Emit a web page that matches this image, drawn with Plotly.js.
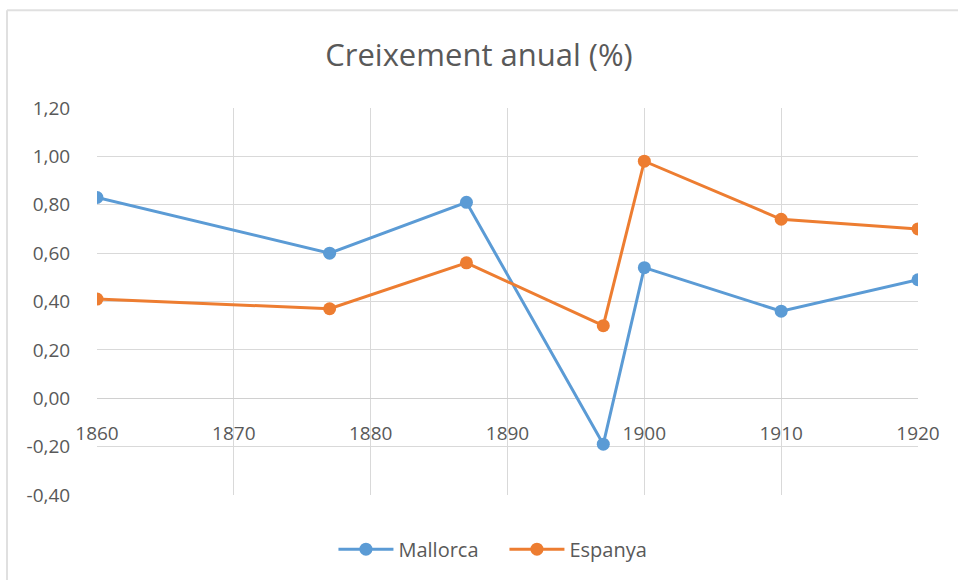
<!DOCTYPE html>
<html>
<head>
<meta charset="utf-8">
<script src="https://cdn.plot.ly/plotly-3.0.1.min.js"></script>
<style>html,body{margin:0;padding:0;background:#fff;}#chart{width:958px;height:580px;}</style>
</head>
<body>
<div id="chart"></div>
<script>
const years = [1860, 1877, 1887, 1897, 1900, 1910, 1920];
const mallorca = [0.83, 0.60, 0.81, -0.19, 0.54, 0.36, 0.49];
const espanya = [0.41, 0.37, 0.56, 0.30, 0.98, 0.74, 0.70];
const xTickVals = [1860, 1870, 1880, 1890, 1900, 1910, 1920];
const yTickVals = [-0.4, -0.2, 0, 0.2, 0.4, 0.6, 0.8, 1.0, 1.2];
const yTickLabels = ['-0,40', '-0,20', '0,00', '0,20', '0,40', '0,60', '0,80', '1,00', '1,20'];

const font = 'Open Sans, sans-serif';
const traces = [
  {x: years, y: mallorca, name: 'Mallorca', type: 'scatter', mode: 'lines+markers',
   line: {color: '#5B9BD5', width: 3}, marker: {color: '#5B9BD5', size: 13}},
  {x: years, y: espanya, name: 'Espanya', type: 'scatter', mode: 'lines+markers',
   line: {color: '#ED7D31', width: 3}, marker: {color: '#ED7D31', size: 13}}
];
const layout = {
  width: 958, height: 580,
  margin: {l: 97, r: 40, t: 108, b: 84},
  paper_bgcolor: '#fff', plot_bgcolor: '#fff',
  font: {family: font, color: '#595959', size: 18},
  title: {text: 'Creixement anual (%)', font: {family: font, size: 31, color: '#595959'},
          x: 0.5, xanchor: 'center', y: 0.905, yanchor: 'middle'},
  showlegend: true,
  legend: {orientation: 'h', x: 0.288, xanchor: 'left', y: -0.137, yanchor: 'middle',
           itemwidth: 55, entrywidth: 101, entrywidthmode: 'pixels',
           font: {family: font, size: 20, color: '#595959'}},
  hovermode: false,
  xaxis: {range: [1860, 1920], tickvals: xTickVals, showgrid: true, gridcolor: '#d9d9d9', gridwidth: 1,
          zeroline: false, showline: false, anchor: 'free', position: 0.25,
          ticks: 'outside', ticklen: 18, tickcolor: 'rgba(0,0,0,0)', tickfont: {size: 19}},
  yaxis: {range: [-0.4, 1.2], tickvals: yTickVals, ticktext: yTickLabels, showgrid: true,
          gridcolor: '#d9d9d9', gridwidth: 1, zeroline: true, zerolinecolor: '#d0d0d0', zerolinewidth: 1,
          showline: false, ticks: 'outside', ticklen: 22, tickcolor: 'rgba(0,0,0,0)', tickfont: {size: 19}},
  shapes: [
    {type: 'line', xref: 'paper', yref: 'paper', x0: -0.1096, x1: 1.06, y0: 1.2526, y1: 1.2526,
     line: {color: '#e0e0e0', width: 2}},
    {type: 'line', xref: 'paper', yref: 'paper', x0: -0.1096, x1: -0.1096, y0: 1.2526, y1: -0.25,
     line: {color: '#e0e0e0', width: 2}}
  ]
};
Plotly.newPlot('chart', traces, layout, {displayModeBar: false, staticPlot: true});
</script>
</body>
</html>
